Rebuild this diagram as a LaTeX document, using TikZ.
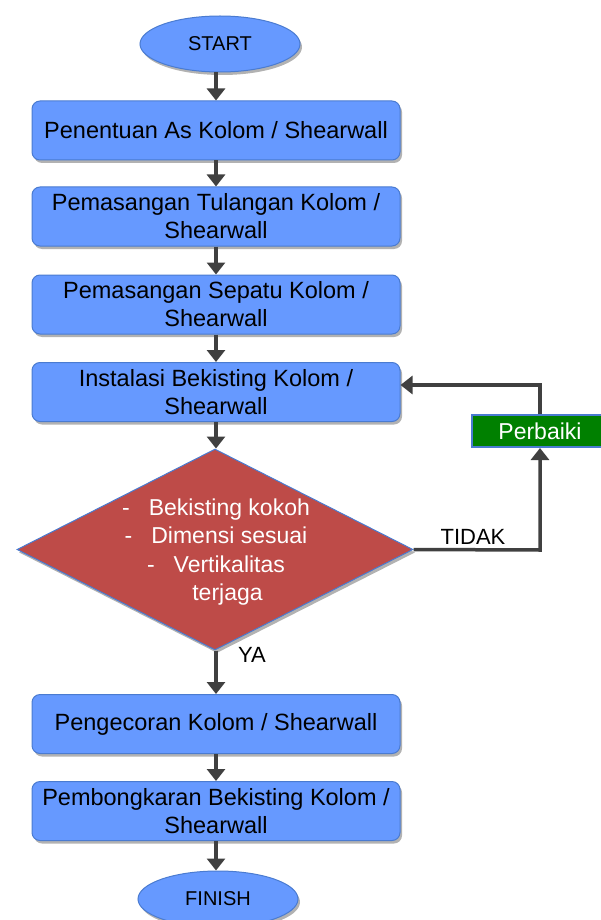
\documentclass[tikz,border=0pt]{standalone}
\usepackage{fontspec}
\setmainfont{Liberation Sans}
\usetikzlibrary{shapes.geometric,arrows.meta,shadows,calc}
\definecolor{boxblue}{HTML}{6699FF}
\definecolor{edgeblue}{HTML}{4A7BD0}
\definecolor{diared}{HTML}{BE4B48}
\definecolor{okgreen}{HTML}{008000}
\definecolor{arrowgray}{HTML}{404040}
\begin{document}
\begin{tikzpicture}[x=1pt,y=-1pt,
  softshadow/.style={drop shadow={shadow xshift=2pt,shadow yshift=-3pt,opacity=0.3,fill=black}},
  proc/.style={rectangle, rounded corners=8pt, fill=boxblue, draw=edgeblue, line width=1pt,
    minimum width=368pt, minimum height=59pt, align=center, inner sep=0pt,
    font=\fontsize{23.5}{28}\selectfont, text=black, softshadow},
  term/.style={ellipse, fill=boxblue, draw=edgeblue, line width=1pt, minimum width=160pt,
    minimum height=56pt, inner sep=0pt, font=\fontsize{20}{24}\selectfont, softshadow},
  flow/.style={draw=arrowgray, line width=3.5pt, -{Triangle[width=18pt,length=12pt]}},
  lbl/.style={font=\fontsize{22}{26}\selectfont, text=black, inner sep=0pt}
]
\useasboundingbox (0,0) rectangle (600,920);

\node[term] (start) at (220,44) {START};
\node[proc] (b1) at (216,130.5) {Penentuan As Kolom / Shearwall};
\node[proc] (b2) at (216,216.5) {Pemasangan Tulangan Kolom /\\Shearwall};
\node[proc] (b3) at (216,304.5) {Pemasangan Sepatu Kolom /\\Shearwall};
\node[proc] (b4) at (216,392) {Instalasi Bekisting Kolom /\\Shearwall};
\node[diamond, fill=diared, draw=edgeblue, line width=1pt, minimum width=396pt,
  minimum height=201pt, inner sep=0pt, softshadow] (dec) at (215,549.5) {};
\node[text=white, align=center, inner sep=0pt, font=\fontsize{23}{28.5}\selectfont] (dtext) at (216,552)
  {-\hspace{19pt}Bekisting kokoh\\-\hspace{19pt}Dimensi sesuai\\-\hspace{19pt}Vertikalitas\\\hspace{23pt}terjaga};
\node[proc] (b5) at (216,724) {Pengecoran Kolom / Shearwall};
\node[proc] (b6) at (216,811) {Pembongkaran Bekisting Kolom /\\Shearwall};
\node[term] (finish) at (218,899) {FINISH};
\node[rectangle, fill=okgreen, draw=edgeblue, line width=2pt, minimum width=150pt,
  minimum height=32pt, inner sep=0pt, text=white, font=\fontsize{23}{28}\selectfont] (perb) at (547,431) {\hspace*{-14pt}Perbaiki};

\node[lbl] (tidak) at (473,537) {TIDAK};
\node[lbl] (ya) at (252,655) {YA};

\draw[flow] (b1.north |- start.south) -- (b1.north);
\draw[flow] (b1.south) -- (b2.north);
\draw[flow] (b2.south) -- (b3.north);
\draw[flow] (b3.south) -- (b4.north);
\draw[flow] (b4.south) -- (b4.south |- dec.north);
\draw[flow] (b5.north |- dec.south) -- (b5.north);
\draw[flow] (b5.south) -- (b6.north);
\draw[flow] (b6.south) -- (b6.south |- finish.north);
\coordinate (turn) at (540,550);
\draw[flow] (dec.east) -- (turn) -- (turn |- perb.south);
\coordinate (ret) at (540,385);
\draw[flow] (turn |- perb.north) -- (ret) -- (ret -| b4.east);
\end{tikzpicture}
\end{document}
